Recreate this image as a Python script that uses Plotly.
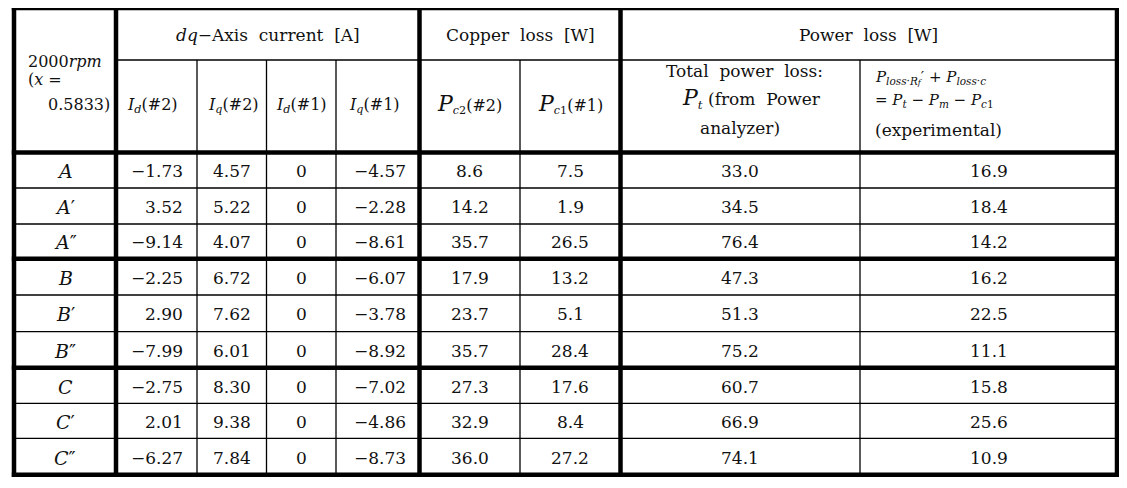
import plotly.graph_objects as go

# table contents
row_labels = ["A", "A′", "A″", "B", "B′", "B″", "C", "C′", "C″"]
id2 = [-1.73, 3.52, -9.14, -2.25, 2.90, -7.99, -2.75, 2.01, -6.27]
iq2 = [4.57, 5.22, 4.07, 6.72, 7.62, 6.01, 8.30, 9.38, 7.84]
id1 = [0, 0, 0, 0, 0, 0, 0, 0, 0]
iq1 = [-4.57, -2.28, -8.61, -6.07, -3.78, -8.92, -7.02, -4.86, -8.73]
pc2 = [8.6, 14.2, 35.7, 17.9, 23.7, 35.7, 27.3, 32.9, 36.0]
pc1 = [7.5, 1.9, 26.5, 13.2, 5.1, 28.4, 17.6, 8.4, 27.2]
pt = [33.0, 34.5, 76.4, 47.3, 51.3, 75.2, 60.7, 66.9, 74.1]
ploss = [16.9, 18.4, 14.2, 16.2, 22.5, 11.1, 15.8, 25.6, 10.9]

W, H = 1127, 488
PAD = 8  # page body margin of the html page
FONT = "DejaVu Serif"
INK = "#111111"

# grid geometry (window pixels)
col_x = [14, 116, 197, 266.5, 336, 419.5, 520, 620.5, 860, 1117]
top_y, mid_y = 8, 60
row_y = [152.5, 188, 224, 258.7, 295, 331.7, 367.7, 403.3, 438.3, 474.7]
thick_cols = [0, 1, 5, 7, 9]
thick_rows = [0, 3, 6, 9]
THICK, THIN = 4.5, 1.3


def fmt(v, nd):
    s = f"{v:.{nd}f}" if nd else str(v)
    return s.replace("-", "−")


shapes = []
# thin lines first
for i, x in enumerate(col_x):
    if i not in thick_cols:
        shapes.append(dict(type="line", x0=x, x1=x, y0=mid_y, y1=row_y[-1],
                           line=dict(color="black", width=THIN)))
shapes.append(dict(type="line", x0=col_x[1], x1=col_x[-1], y0=mid_y, y1=mid_y,
                   line=dict(color="black", width=THIN)))
for j, y in enumerate(row_y):
    if j not in thick_rows:
        shapes.append(dict(type="line", x0=col_x[0], x1=col_x[-1], y0=y, y1=y,
                           line=dict(color="black", width=THIN)))
# thick lines
for i in thick_cols:
    x = col_x[i]
    shapes.append(dict(type="line", x0=x, x1=x, y0=top_y - 2.2, y1=row_y[-1] + 2.2,
                       line=dict(color="black", width=THICK)))
shapes.append(dict(type="line", x0=col_x[0] - 2.2, x1=col_x[-1] + 2.2, y0=top_y, y1=top_y,
                   line=dict(color="black", width=THICK)))
for j in thick_rows:
    y = row_y[j]
    shapes.append(dict(type="line", x0=col_x[0] - 2.2, x1=col_x[-1] + 2.2, y0=y, y1=y,
                       line=dict(color="black", width=THICK)))

annots = []


def txt(text, x, y, size=17, anchor="center"):
    annots.append(dict(text=text, x=x, y=y, xref="x", yref="y", xanchor=anchor,
                       yanchor="middle", showarrow=False,
                       font=dict(family=FONT, size=size, color=INK)))


def cmid(i, j=None):
    j = i + 1 if j is None else j
    return (col_x[i] + col_x[j]) / 2


# header
txt("2000<i>rpm</i>", 26, 61, 16, "left")
txt("(<i>x</i> =", 26, 79, 16, "left")
txt("0.5833)", 112, 104, 16, "right")
txt("<i>dq</i>−Axis  current  [A]", cmid(1, 5), 35)
txt("Copper  loss  [W]", cmid(5, 7), 35)
txt("Power  loss  [W]", cmid(7, 9), 35)

txt("<i>I</i><sub><i>d</i></sub>(#2)", cmid(1) - 4, 105, 16)
txt("<i>I</i><sub><i>q</i></sub>(#2)", cmid(2) + 2, 105, 16)
txt("<i>I</i><sub><i>d</i></sub>(#1)", cmid(3), 105, 16)
txt("<i>I</i><sub><i>q</i></sub>(#1)", cmid(4) - 3, 105, 16)
txt("<span style='font-size:22px'><i>P</i></span><sub><i>c</i>2</sub>(#2)", cmid(5), 104, 16)
txt("<span style='font-size:22px'><i>P</i></span><sub><i>c</i>1</sub>(#1)", cmid(6), 104, 16)

txt("Total  power  loss:", cmid(7) + 4, 71)
txt("<span style='font-size:22px'><i>P</i></span><sub><i>t</i></sub> (from  Power",
    cmid(7) + 11, 98)
txt("analyzer)", cmid(7), 128)

txt("<i>P</i><sub><i>loss·R<span style='font-size:8px'>f</span></i></sub>′"
    " + <i>P</i><sub><i>loss·c</i></sub>", 873, 77, 15, "left")
txt("= <i>P</i><sub><i>t</i></sub> − <i>P</i><sub><i>m</i></sub> − <i>P</i><sub><i>c</i>1</sub>",
    873, 100, 15, "left")
txt("(experimental)", 873, 130, 17, "left")

# body
for r in range(len(row_labels)):
    yc = (row_y[r] + row_y[r + 1]) / 2 + 1
    lab = row_labels[r]
    txt(f"<i>{lab[0]}</i>{lab[1:]}", cmid(0), yc, 19)
    txt(fmt(id2[r], 2), col_x[2] - 12, yc, 17, "right")
    txt(fmt(iq2[r], 2), cmid(2), yc)
    txt(fmt(id1[r], 0), cmid(3), yc)
    txt(fmt(iq1[r], 2), col_x[5] - 12, yc, 17, "right")
    txt(fmt(pc2[r], 1), cmid(5), yc)
    txt(fmt(pc1[r], 1), cmid(6), yc)
    txt(fmt(pt[r], 1), cmid(7), yc)
    txt(fmt(ploss[r], 1), cmid(8), yc)

fig = go.Figure()
fig.update_layout(
    width=W - PAD, height=H - PAD,
    margin=dict(l=0, r=0, t=0, b=0),
    paper_bgcolor="white", plot_bgcolor="white",
    xaxis=dict(range=[PAD, W], visible=False, fixedrange=True),
    yaxis=dict(range=[H, PAD], visible=False, fixedrange=True),
    shapes=shapes,
    annotations=annots,
    showlegend=False,
)
fig.write_html("out.html")
